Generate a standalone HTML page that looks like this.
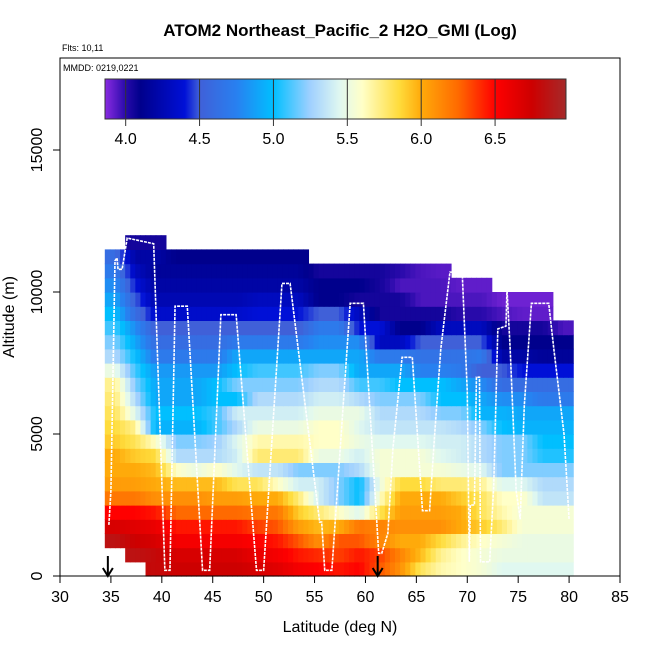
<!DOCTYPE html>
<html><head><meta charset="utf-8"><style>
body{margin:0;background:#fff;}
svg{display:block;font-family:"Liberation Sans",sans-serif;}
</style></head><body>
<svg id="c" width="650" height="650" viewBox="0 0 650 650">
<text x="340" y="36" text-anchor="middle" font-size="17" font-weight="bold">ATOM2 Northeast_Pacific_2 H2O_GMI (Log)</text>
<text x="62" y="51" font-size="9">Flts: 10,11</text>
<g id="heat"></g>
<polyline id="track" fill="none" stroke="#fff" stroke-width="1.6" stroke-dasharray="3,1"/>
<rect x="60" y="58" width="560" height="518" fill="none" stroke="#000" stroke-width="1"/>
<text x="63" y="71" font-size="9">MMDD: 0219,0221</text>
<g id="cbar"></g>
<g id="axes"></g>
<text x="340" y="632" text-anchor="middle" font-size="16">Latitude (deg N)</text>
<text transform="translate(14,317) rotate(-90)" text-anchor="middle" font-size="16">Altitude (m)</text>
</svg>
<script>
const latStart = 34.4, latStep = 2;
const altStep = 500;
const colTops = [11500,12000,12000,11500,11500,11500,11500,11500,11500,11500,11000,11000,11000,11000,11000,11000,11000,10500,10500,10000,10000,10000,9000];
// rows from 0 m upward, 23 columns each
const grid = [
[null,null,6.8,6.75,6.75,6.75,6.75,6.7,6.65,6.55,6.5,6.45,6.5,6.3,6.1,5.8,5.65,5.6,5.55,5.45,5.45,5.45,5.45],
[null,6.85,6.8,6.7,6.7,6.7,6.7,6.6,6.55,6.45,6.4,6.35,6.45,6.35,6.15,5.95,5.7,5.6,5.55,5.5,5.5,5.5,5.5],
[6.85,6.75,6.7,6.55,6.55,6.55,6.55,6.5,6.45,6.3,6.1,6.3,6.3,6.15,6.0,6.0,5.85,5.7,5.6,5.55,5.5,5.5,5.5],
[6.7,6.65,6.6,6.45,6.45,6.45,6.45,6.35,6.3,6.05,5.95,6.0,6.2,6.15,6.1,6.1,6.1,6.0,5.9,5.75,5.55,5.55,5.55],
[6.5,6.5,6.45,6.25,6.25,6.25,6.25,6.2,6.2,5.9,5.75,5.6,5.45,5.8,6.05,6.05,6.05,6.0,5.8,5.65,5.55,5.55,5.55],
[6.2,6.2,6.1,6.1,6.1,6.05,6.05,6.0,6.0,5.75,5.4,5.2,5.0,5.6,6.0,6.0,6.0,5.9,5.8,5.6,5.6,5.35,5.35],
[6.05,6.05,6.0,5.95,5.95,5.95,5.8,5.8,5.6,5.4,5.4,5.2,5.0,5.5,5.85,5.85,5.75,5.75,5.7,5.45,5.45,5.3,5.3],
[6.0,6.0,5.95,5.6,5.5,5.6,5.45,5.35,5.35,5.2,5.2,5.2,5.3,5.55,5.55,5.55,5.55,5.5,5.45,5.2,5.2,5.2,5.2],
[6.0,5.9,5.85,5.3,5.3,5.3,5.4,5.75,5.75,5.75,5.5,5.5,5.4,5.55,5.55,5.55,5.45,5.4,5.3,5.2,5.2,5.05,5.05],
[5.9,5.8,5.6,5.2,5.2,5.25,5.45,5.65,5.65,5.65,5.6,5.6,5.5,5.45,5.45,5.45,5.4,5.4,5.3,5.2,5.2,5.0,5.0],
[5.85,5.7,4.95,4.95,4.95,5.1,5.3,5.5,5.5,5.5,5.6,5.6,5.45,5.35,5.35,5.35,5.35,5.3,5.2,5.0,4.95,4.95,4.95],
[5.8,5.45,5.0,5.0,5.0,5.1,5.4,5.4,5.4,5.4,5.5,5.5,5.5,5.3,5.3,5.3,5.2,5.2,4.95,4.95,4.9,4.9,4.9],
[5.75,5.3,4.9,4.9,4.9,5.0,5.0,5.3,5.3,5.3,5.4,5.4,5.3,5.2,5.2,5.2,5.0,5.0,4.9,4.8,4.8,4.7,4.7],
[5.7,5.2,4.9,4.9,4.9,5.0,5.2,5.2,5.2,5.2,5.3,5.3,5.1,5.1,5.0,5.0,5.0,4.9,4.8,4.6,4.6,4.6,4.6],
[5.5,5.1,4.85,4.85,4.85,4.85,5.0,5.1,5.1,5.1,5.2,5.2,4.9,4.9,4.9,4.75,4.75,4.7,4.5,4.5,4.4,4.4,4.4],
[5.3,5.0,4.7,4.7,4.7,4.7,4.9,4.9,4.9,4.9,4.9,4.9,4.9,4.7,4.7,4.65,4.65,4.65,4.7,4.2,4.2,4.15,4.15],
[5.2,4.9,4.6,4.6,4.6,4.6,4.7,4.7,4.7,4.7,4.8,4.8,4.8,4.3,4.3,4.5,4.5,4.5,4.5,4.1,4.1,4.1,4.1],
[5.1,4.8,4.5,4.5,4.5,4.5,4.5,4.5,4.5,4.5,4.7,4.7,4.4,4.4,4.1,4.1,4.3,4.3,4.3,4.05,4.05,4.05,3.95],
[5.0,4.6,4.35,4.35,4.35,4.35,4.35,4.4,4.4,4.4,4.5,4.5,4.3,4.05,4.05,4.05,4.05,4.0,4.0,3.95,3.92,3.92,null],
[4.9,4.5,4.25,4.25,4.25,4.25,4.25,4.3,4.3,4.3,4.1,4.1,4.05,4.05,4.05,3.95,3.95,3.95,3.95,3.9,3.9,3.9,null],
[4.8,4.4,4.2,4.2,4.2,4.2,4.2,4.2,4.2,4.2,4.1,4.1,4.1,4.05,3.95,3.95,3.95,3.92,3.92,null,null,null,null],
[4.7,4.3,4.15,4.15,4.15,4.15,4.15,4.15,4.15,4.15,4.05,4.05,4.05,4.05,4.0,3.95,3.93,null,null,null,null,null,null],
[4.6,4.2,4.2,4.1,4.1,4.1,4.1,4.1,4.1,4.1,null,null,null,null,null,null,null,null,null,null,null,null,null],
[null,4.05,4.05,null,null,null,null,null,null,null,null,null,null,null,null,null,null,null,null,null,null,null,null]
];
const trackLat = [34.8,35.0,35.2,35.4,35.6,35.7,36.1,36.6,39.2,40.3,40.8,41.3,42.5,44.0,44.7,45.8,47.3,49.3,50.0,51.8,52.6,55.5,55.7,56.0,56.7,58.5,59.8,61.3,61.6,62.2,62.7,63.6,64.6,65.6,66.3,66.8,67.4,68.3,69.5,70.0,70.2,70.3,70.7,70.9,71.2,71.3,72.2,72.6,73.0,73.8,73.9,74.2,74.8,75.2,75.6,76.3,78.0,78.5,79.5,80.0];
const trackAlt = [1800,3000,7000,11100,11200,10800,10800,11900,11700,200,200,9500,9500,200,200,9200,9200,200,200,10300,10300,1900,1900,200,200,9600,9600,800,800,1500,4500,7700,7700,2300,2300,5000,8000,10700,10700,6500,500,2500,2500,7000,7000,500,500,3200,8700,8800,10100,8100,3000,2000,6000,9600,9600,8000,5000,2000];
const xTicks = [30,35,40,45,50,55,60,65,70,75,80,85];
const yTicks = [0,5000,10000,15000];
const cbTicks = [4.0,4.5,5.0,5.5,6.0,6.5];
const arrowLats = [34.7,61.2];

const NS='http://www.w3.org/2000/svg';
const X = lat => 60 + (lat-30)*560/55;
const Y = alt => 576 - alt*(576-150)/15000;
const cbMin=3.86, cbMax=6.98, cbX0=105, cbX1=566;
const CX = v => cbX0 + (v-cbMin)/(cbMax-cbMin)*(cbX1-cbX0);
const stops=[[3.86,[138,43,226]],[4.0,[40,10,170]],[4.1,[0,0,140]],[4.4,[0,16,215]],[4.5,[64,96,216]],[4.75,[40,128,240]],[5.0,[0,191,255]],[5.25,[160,208,255]],[5.45,[224,248,240]],[5.6,[255,255,200]],[5.85,[255,220,60]],[6.0,[255,170,10]],[6.25,[255,106,0]],[6.5,[255,0,0]],[6.75,[205,0,0]],[6.98,[165,42,42]]];
function col(v){
  if(v<=stops[0][0]) return 'rgb('+stops[0][1]+')';
  for(let i=1;i<stops.length;i++){ if(v<=stops[i][0]){const a=stops[i-1],b=stops[i],t=(v-a[0])/(b[0]-a[0]);
    return 'rgb('+a[1].map((c,k)=>Math.round(c+(b[1][k]-c)*t)).join(',')+')';}}
  return 'rgb('+stops[stops.length-1][1]+')';
}
function mk(tag,attrs,parent){const e=document.createElementNS(NS,tag);for(const k in attrs)e.setAttribute(k,attrs[k]);parent.appendChild(e);return e;}
const heat=document.getElementById('heat');
const sub=4;
grid.forEach((row,r)=>row.forEach((v,c)=>{
  if(v===null) return;
  const a0=r*altStep, a1=a0+altStep;
  if(a1>colTops[c]) return;
  for(let s=0;s<sub;s++){
    const f=(s+0.5)/sub-0.5; // offset from column centre in column units
    const nb=f<0?c-1:c+1;
    let val=v;
    const nv=(nb>=0&&nb<row.length)?row[nb]:null;
    if(nv!==null && nv!==undefined && a1<=colTops[nb]) val=v+(nv-v)*Math.abs(f);
    const l0=latStart+(c+s/sub)*latStep, l1=latStart+(c+(s+1)/sub)*latStep;
    const el=mk('rect',{x:X(l0),y:Y(a1),width:X(l1)-X(l0)+0.6,height:Y(a0)-Y(a1)+0.6,fill:col(val)},heat);
    
    
  }
}));
document.getElementById('track').setAttribute('points',trackLat.map((l,i)=>X(l)+','+Y(trackAlt[i])).join(' '));
// colorbar
const cb=document.getElementById('cbar');
for(let px=cbX0;px<cbX1;px++){const v=cbMin+(px+0.5-cbX0)/(cbX1-cbX0)*(cbMax-cbMin);
  const el=mk('rect',{x:px,y:79,width:1.2,height:40,fill:col(v)},cb);
  
  }
mk('rect',{x:cbX0,y:79,width:cbX1-cbX0,height:40,fill:'none',stroke:'#333','stroke-width':1},cb);
cbTicks.forEach(t=>{const x=CX(t);
  mk('line',{x1:x,x2:x,y1:79,y2:126,stroke:'#333','stroke-width':1},cb);
  const el=mk('text',{x:x,y:144,'text-anchor':'middle','font-size':16},cb);el.textContent=t.toFixed(1);
  
  });
// axes
const ax=document.getElementById('axes');
xTicks.forEach(t=>{const x=X(t);
  mk('line',{x1:x,x2:x,y1:576,y2:583,stroke:'#000'},ax);
  const el=mk('text',{x:x,y:602,'text-anchor':'middle','font-size':16},ax);el.textContent=t;
  
  });
yTicks.forEach(t=>{const y=Y(t);
  mk('line',{x1:53,x2:60,y1:y,y2:y,stroke:'#000'},ax);
  const el=mk('text',{transform:'translate(42,'+y+') rotate(-90)','text-anchor':'middle','font-size':16},ax);el.textContent=t;
  
  });
arrowLats.forEach(l=>{const x=X(l);
  const g=mk('g',{},ax);
  
  
  mk('line',{x1:x,x2:x,y1:556,y2:575,stroke:'#000','stroke-width':2},g);
  mk('polyline',{points:(x-5)+',568 '+x+',576 '+(x+5)+',568',fill:'none',stroke:'#000','stroke-width':2},g);});
</script>
</body></html>
